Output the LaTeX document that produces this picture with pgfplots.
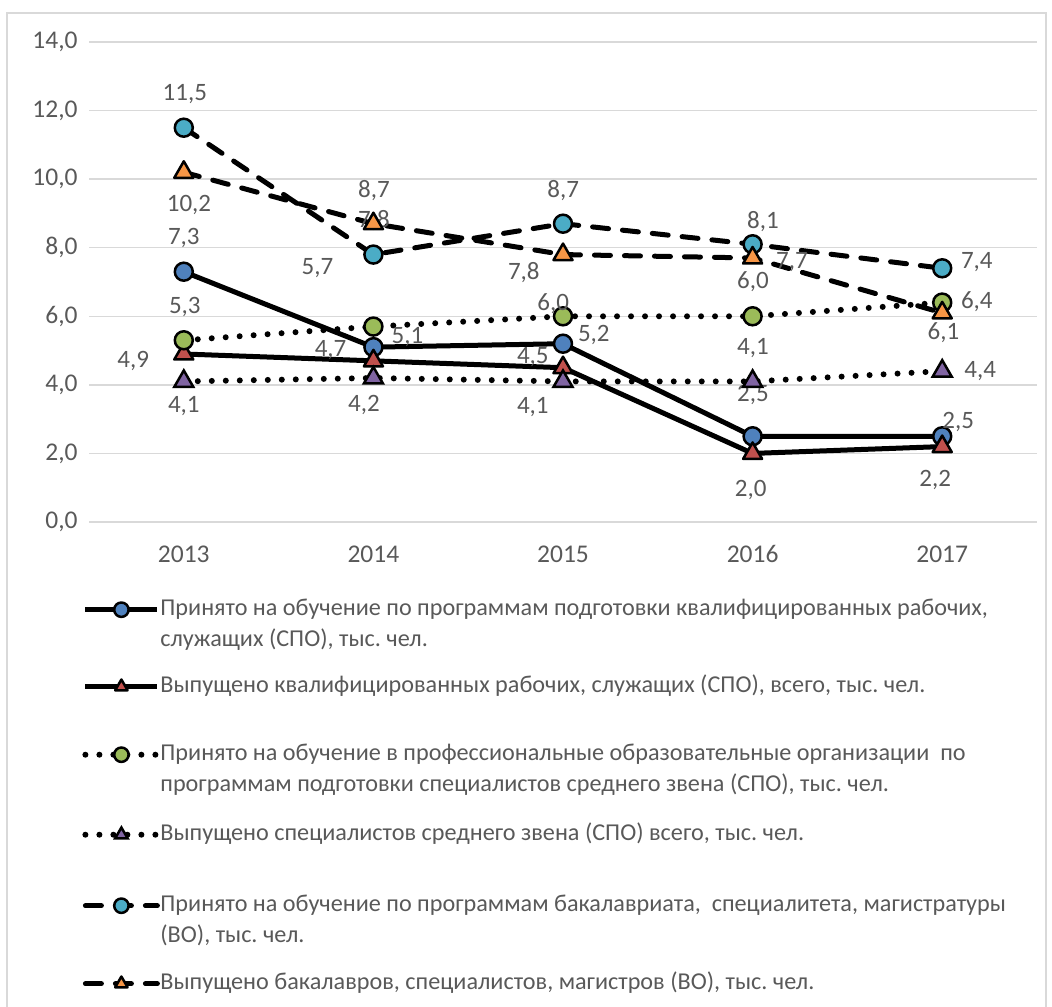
\documentclass[border=0pt]{standalone}
\usepackage{fontspec}
\setmainfont{Carlito}
\usepackage{pgfplots}
\usepackage{pgfplotstable}
\pgfplotsset{compat=1.18}
\frenchspacing

\definecolor{txt}{HTML}{595959}
\definecolor{gridc}{HTML}{D9D9D9}
\definecolor{cblue}{HTML}{4F81BD}
\definecolor{cred}{HTML}{C0504D}
\definecolor{cgreen}{HTML}{9BBB59}
\definecolor{cpurple}{HTML}{8064A2}
\definecolor{cteal}{HTML}{4BACC6}
\definecolor{corange}{HTML}{F79646}

% x = year, y = value, dx/dy = label offset (pt)
\pgfplotstableread{
x y dx dy
2013 7.3 0 17
2014 5.1 17 5.2
2015 5.2 15.4 4.3
2016 2.5 0.2 20.5
2017 2.5 8 7.3
}\tA
\pgfplotstableread{
x y dx dy
2013 4.9 -25.3 -3.3
2014 4.7 -21.4 5.4
2015 4.5 -15.1 5.2
2016 2.0 -1 -18.3
2017 2.2 -3.5 -16.7
}\tB
\pgfplotstableread{
x y dx dy
2013 5.3 0.5 16.5
2014 5.7 -28 29.2
2015 6.0 -4.9 6.1
2016 6.0 0.2 17.3
2017 6.4 17.3 0.5
}\tC
\pgfplotstableread{
x y dx dy
2013 4.1 0 -12.2
2014 4.2 -4.7 -13.5
2015 4.1 -15.1 -12.6
2016 4.1 0.2 16.5
2017 4.4 19 0
}\tD
\pgfplotstableread{
x y dx dy
2013 11.5 0.5 16.7
2014 7.8 0.3 16.8
2015 8.7 0.1 16.5
2016 8.1 5.2 11.3
2017 7.4 17.3 3.3
}\tE
\pgfplotstableread{
x y dx dy
2013 10.2 2.6 -16.3
2014 8.7 0.3 16.5
2015 7.8 -19.6 -9
2016 7.7 19.7 -1.8
2017 6.1 0.6 -9.9
}\tF

\pgfplotsset{
  lbl/.style={
    nodes near coords,
    point meta=y,
    visualization depends on={\thisrow{dx} \as \dx},
    visualization depends on={\thisrow{dy} \as \dy},
    every node near coord/.style={anchor=center, inner sep=0pt, text=txt,
      font=\fontsize{12.5}{15.5}\selectfont, xshift=\dx pt, yshift=\dy pt},
  },
  solidln/.style={black, line width=2.5pt, line join=round},
  dotln/.style={black, line width=3pt, line cap=round, dash pattern=on 0pt off 7pt},
  dashln/.style={black, line width=2.5pt, line cap=round, line join=round, dash pattern=on 8pt off 7pt},
  circ/.style={mark=*, mark size=4.5pt, mark options={solid, fill=#1, draw=black, line width=1.25pt}},
  tri/.style={mark=triangle*, mark size=5.5pt, mark options={solid, fill=#1, draw=black, line width=1.25pt}},
}

\newcommand{\lt}[2]{\parbox[t]{450pt}{\strut #1\rule[-#2]{0pt}{0pt}}}

\begin{document}
\begin{tikzpicture}[font=\fontsize{12}{15.5}\selectfont]
\useasboundingbox (0,0) rectangle (526pt,503pt);
\draw[gridc, line width=0.75pt] (3.5pt,-10pt) rectangle (523pt,496.5pt);
\begin{axis}[
  at={(44.5pt,242pt)}, anchor=south west,
  scale only axis, width=474pt, height=240pt,
  xmin=2012.5, xmax=2017.5, ymin=0, ymax=14,
  xtick={2013,2014,2015,2016,2017},
  xticklabels={2013,2014,2015,2016,2017},
  ytick={0,2,...,14},
  ymajorgrids, grid style={gridc, line width=0.75pt},
  axis line style={draw=none}, major tick length=0pt,
  tick label style={text=txt, inner sep=0pt, font=\fontsize{12.75}{15.5}\selectfont},
  yticklabel style={xshift=-5.5pt},
  xticklabel style={anchor=base, yshift=-20pt},
  /pgf/number format/use comma,
  /pgf/number format/fixed,
  /pgf/number format/fixed zerofill,
  /pgf/number format/precision=1,
  /pgf/number format/assume math mode=true,
  clip=false,
  legend style={at={(axis description cs:0,0)}, anchor=north west,
    xshift=-3.5pt, yshift=-35.6pt, draw=none, fill=none, inner sep=0pt,
    row sep=0pt, column sep=0pt,
    nodes={inner sep=0pt, text depth=, text=txt}, cells={anchor=base west},
    font=\fontsize{12.1}{15.5}\selectfont},
  legend image code/.code={\draw[mark repeat=2,mark phase=2,#1,mark size=3.6pt]
    plot coordinates {(0pt,2.8pt) (18pt,2.8pt) (36pt,2.8pt)};},
]
\addplot[solidln, circ=cblue, lbl] table[x=x,y=y] {\tA};
\addlegendentry{\lt{Принято на обучение по программам подготовки квалифицированных рабочих,\\служащих (СПО), тыс. чел.}{12.15pt}}
\addplot[solidln, tri=cred, lbl] table[x=x,y=y] {\tB};
\addlegendentry{\lt{Выпущено квалифицированных рабочих, служащих (СПО), всего, тыс. чел.}{23.15pt}}
\addplot[dotln, circ=cgreen, lbl] table[x=x,y=y] {\tC};
\addlegendentry{\lt{Принято на обучение в профессиональные образовательные организации\ \ по\\программам подготовки специалистов среднего звена (СПО), тыс. чел.}{13.65pt}}
\addplot[dotln, tri=cpurple, lbl] table[x=x,y=y] {\tD};
\addlegendentry{\lt{Выпущено специалистов среднего звена (СПО) всего, тыс. чел.}{24.65pt}}
\addplot[dashln, circ=cteal, lbl] table[x=x,y=y] {\tE};
\addlegendentry{\lt{Принято на обучение по программам бакалавриата,\ \ специалитета, магистратуры\\(ВО), тыс. чел.}{12.65pt}}
\addplot[dashln, tri=corange, lbl] table[x=x,y=y] {\tF};
\addlegendentry{\lt{Выпущено бакалавров, специалистов, магистров (ВО), тыс. чел.}{0pt}}
\end{axis}
\end{tikzpicture}
\end{document}
